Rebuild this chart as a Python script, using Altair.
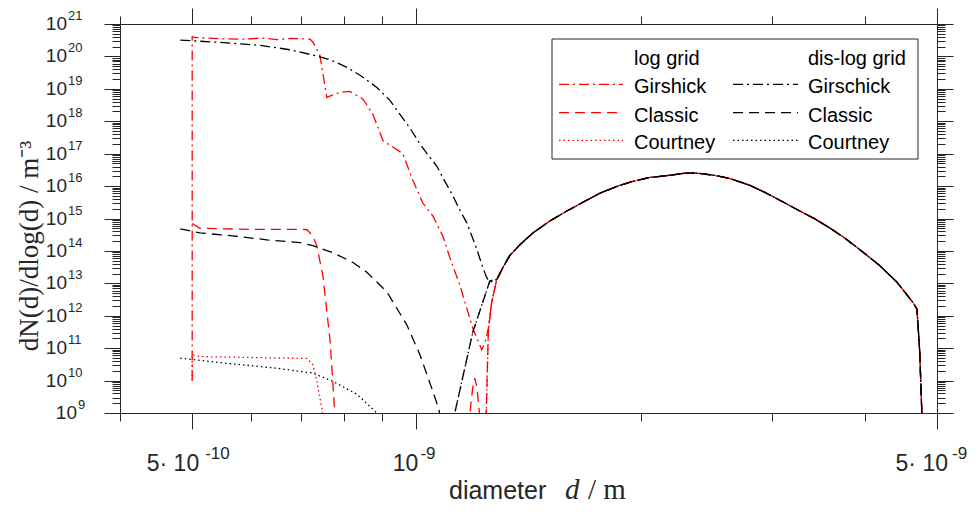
import altair as alt
import pandas as pd

# ---------------- values ----------------
# right-hand branch shared by all six curves
MAIN_D = [1.282e-9, 1.307e-9, 1.334e-9, 1.377e-9, 1.434e-9, 1.511e-9, 1.592e-9, 1.683e-9, 1.763e-9,
          1.859e-9, 1.953e-9, 2.058e-9, 2.17e-9, 2.28e-9, 2.34e-9, 2.40e-9, 2.516e-9, 2.64e-9,
          2.804e-9, 2.937e-9, 3.08e-9, 3.272e-9, 3.428e-9, 3.59e-9, 3.759e-9, 3.94e-9, 4.19e-9,
          4.42e-9, 4.64e-9, 4.70e-9, 4.74e-9, 4.77e-9, 4.79e-9]
MAIN_N = [1.3e13, 3.1e13, 7.1e13, 1.55e14, 3.6e14, 8.4e14, 1.7e15, 3.4e15, 6.0e15,
          9.8e15, 1.4e16, 1.85e16, 2.1e16, 2.45e16, 2.54e16, 2.45e16, 2.13e16, 1.7e16,
          1.05e16, 6.4e15, 3.6e15, 1.7e15, 9.7e14, 5.1e14, 2.5e14, 1.09e14, 3.5e13,
          1.07e13, 2.6e12, 1.6e12, 7.8e10, 1.15e9, 1e8]

# log grid
GIRSHICK_LOG_D = [5.0e-10, 5.0e-10, 5.06e-10, 5.5e-10, 5.9e-10, 6.2e-10, 6.5e-10, 6.8e-10, 7.04e-10,
                  7.2e-10, 7.26e-10, 7.42e-10, 7.58e-10, 7.89e-10, 8.14e-10, 8.48e-10, 8.74e-10,
                  9.02e-10, 9.30e-10, 9.59e-10, 9.89e-10, 1.02e-9, 1.052e-9, 1.085e-9, 1.109e-9,
                  1.144e-9, 1.191e-9, 1.224e-9, 1.236e-9, 1.249e-9, 1.262e-9]
GIRSHICK_LOG_N = [1.0e10, 4.0e20, 3.8e20, 3.5e20, 3.4e20, 3.7e20, 3.3e20, 3.6e20, 3.5e20,
                  3.4e20, 2.8e20, 1.1e20, 5.5e18, 7.8e18, 8.3e18, 4.8e18, 1.65e18,
                  2.5e17, 1.6e17, 1.0e17, 1.5e16, 3.0e15, 1.2e15, 2.9e14, 6.2e13,
                  8.7e12, 4.0e11, 8.9e10, 1.5e11, 4.0e11, 2.6e12]

CLASSIC_LOG_D = [5.0e-10, 5.12e-10, 6.0e-10, 7.04e-10, 7.13e-10, 7.26e-10, 7.35e-10, 7.49e-10,
                 7.66e-10, 7.77e-10, 7.85e-10, 1.17e-9, 1.18e-9, 1.19e-9, 1.198e-9, 1.206e-9,
                 1.215e-9, 1.222e-9, 1.236e-9, 1.241e-9, 1.249e-9, 1.262e-9]
CLASSIC_LOG_N = [7.0e14, 5.0e14, 4.6e14, 4.6e14, 4.5e14, 2.9e14, 1.45e14, 1.7e13,
                 1.6e11, 1.0e9, 2e8, 2e8, 1.0e9, 6e9, 1.2e10, 6e9,
                 1.0e9, 2e8, 2e8, 1.0e9, 3.2e11, 2.6e12]

COURTNEY_LOG_D = [5.0e-10, 5.0e-10, 5.12e-10, 7.13e-10, 7.26e-10, 7.35e-10, 7.47e-10, 7.52e-10,
                  1.236e-9, 1.241e-9, 1.249e-9, 1.262e-9]
COURTNEY_LOG_N = [1.0e10, 6.3e10, 5.5e10, 4.8e10, 3.1e10, 9.5e9, 1.3e9, 2e8,
                  2e8, 1.0e9, 3.2e11, 2.6e12]

# dis-log grid
GIRSCHICK_DIS_D = [4.82e-10, 5.45e-10, 6.17e-10, 6.77e-10, 7.26e-10, 7.66e-10, 8.07e-10, 8.45e-10,
                   8.85e-10, 9.21e-10, 9.50e-10, 9.80e-10, 1.011e-9, 1.036e-9, 1.066e-9, 1.092e-9,
                   1.12e-9, 1.144e-9, 1.169e-9, 1.187e-9, 1.206e-9, 1.224e-9, 1.240e-9, 1.252e-9,
                   1.265e-9]
GIRSCHICK_DIS_N = [3.2e20, 2.7e20, 2.2e20, 1.6e20, 1.1e20, 7.9e19, 4.6e19, 2.4e19,
                   1.1e19, 4.5e18, 1.65e18, 6.2e17, 2.0e17, 9.3e16, 4.0e16, 1.4e16,
                   4.9e15, 1.8e15, 7.2e14, 2.9e14, 1.1e14, 3.8e13, 1.7e13, 1.1e13,
                   1.15e13]

CLASSIC_DIS_D = [4.82e-10, 5.12e-10, 5.67e-10, 6.30e-10, 6.98e-10, 7.26e-10, 7.72e-10, 8.22e-10,
                 8.58e-10, 9.13e-10, 9.71e-10, 1.011e-9, 1.052e-9, 1.072e-9, 1.085e-9, 1.115e-9,
                 1.126e-9, 1.191e-9, 1.255e-9]
CLASSIC_DIS_N = [4.8e14, 3.6e14, 2.9e14, 2.2e14, 1.8e14, 1.45e14, 8.9e13, 4.4e13,
                 2.2e13, 5.4e12, 5.2e11, 6.3e10, 4.7e9, 1.3e9, 3e8, 3e8,
                 1.0e9, 3.2e11, 1.2e13]

COURTNEY_DIS_D = [4.82e-10, 5.50e-10, 6.50e-10, 7.26e-10, 7.72e-10, 8.32e-10, 8.85e-10, 9.0e-10,
                  1.115e-9, 1.126e-9, 1.191e-9, 1.255e-9]
COURTNEY_DIS_N = [4.9e10, 3.5e10, 2.4e10, 1.7e10, 9.5e9, 3.8e9, 1.0e9, 5e8,
                  3e8, 1.0e9, 3.2e11, 1.2e13]

X_DOMAIN = [4e-10, 5e-9]
Y_DOMAIN = [1e9, 1e21]
X_MAJOR = [5e-10, 1e-9, 5e-9]
X_MINOR = [4e-10, 6e-10, 7e-10, 8e-10, 9e-10, 2e-9, 3e-9, 4e-9]
Y_EXPONENTS = list(range(9, 22))
X_TICK_BASE = ["5\u00b7 10", "10", "5\u00b7 10"]
X_TICK_EXP = ["-10", "-9", "-9"]
LEGEND_HEADERS = ["log grid", "dis-log grid"]
LEGEND_LOG = ["Girshick", "Classic", "Courtney"]
LEGEND_DISLOG = ["Girschick", "Classic", "Courtney"]
X_TITLE = ["diameter", "d", "/ m"]
Y_TITLE = "dN(d)/dlog(d) / m\u207b\u00b3"

# ---------------- styling / layout ----------------
W, H = 817, 389
OX, OY = 120, 24          # page position of the plot origin (8px page margin + padding)
AX = "#262626"
SANS = "Liberation Sans"
SERIF = "Liberation Serif"
RED, BLACK = "#ff0000", "#000000"
DASH = {"dashdot": [10, 4, 2, 4], "dashed": [10, 6], "dotted": [1.5, 3]}
LW = 1.3

series = [
    ("Girshick log", "log", "dashdot", GIRSHICK_LOG_D, GIRSHICK_LOG_N),
    ("Classic log", "log", "dashed", CLASSIC_LOG_D, CLASSIC_LOG_N),
    ("Courtney log", "log", "dotted", COURTNEY_LOG_D, COURTNEY_LOG_N),
    ("Girschick dis", "dis", "dashdot", GIRSCHICK_DIS_D, GIRSCHICK_DIS_N),
    ("Classic dis", "dis", "dashed", CLASSIC_DIS_D, CLASSIC_DIS_N),
    ("Courtney dis", "dis", "dotted", COURTNEY_DIS_D, COURTNEY_DIS_N),
]
rows = []
for name, grid, style, ds, ns in series:
    for i, (d, n) in enumerate(zip(ds + MAIN_D, ns + MAIN_N)):
        rows.append({"series": name, "grid": grid, "style": style, "i": i, "d": d, "n": n})
df = pd.DataFrame(rows)

xs = alt.Scale(type="log", domain=X_DOMAIN, nice=False)
ys = alt.Scale(type="log", domain=Y_DOMAIN, nice=False)
dash_scale = alt.Scale(domain=list(DASH.keys()), range=list(DASH.values()))


def axis(orient, values, size, domain=True):
    return alt.Axis(orient=orient, values=values, tickSize=size, labels=False, title=None,
                    grid=False, domain=domain, domainColor=AX, domainWidth=1,
                    tickColor=AX, tickWidth=1)


def lines(grid, color, xaxis, yaxis):
    return alt.Chart(df[df.grid == grid]).mark_line(
        clip=True, strokeWidth=LW, color=color).encode(
        x=alt.X("d:Q", scale=xs, axis=xaxis),
        y=alt.Y("n:Q", scale=ys, axis=yaxis),
        strokeDash=alt.StrokeDash("style:N", scale=dash_scale, legend=None),
        detail="series:N",
        order="i:Q",
    )


Y_MAJOR = [10.0 ** e for e in Y_EXPONENTS]
Y_MINOR = [k * 10.0 ** e for e in Y_EXPONENTS[:-1] for k in range(2, 10)]

layers = []
layers.append(lines("log", RED, axis("bottom", X_MAJOR, 16), axis("left", Y_MAJOR, 16)))
layers.append(lines("dis", BLACK, axis("top", X_MAJOR, 16), axis("right", Y_MAJOR, 16)))

corner = pd.DataFrame({"d": X_DOMAIN, "n": Y_DOMAIN})
for xo, yo in (("bottom", "left"), ("top", "right")):
    layers.append(alt.Chart(corner).mark_point(opacity=0).encode(
        x=alt.X("d:Q", scale=xs, axis=axis(xo, X_MINOR, 8, False)),
        y=alt.Y("n:Q", scale=ys, axis=axis(yo, Y_MINOR, 8, False)),
    ))

# y tick labels: "10" + raised exponent
ylab = pd.DataFrame({"v": Y_MAJOR, "e": [str(e) for e in Y_EXPONENTS]})
for sub, xb in ((ylab[ylab.e.str.len() == 2], 67 - OX), (ylab[ylab.e.str.len() == 1], 77 - OX)):
    layers.append(alt.Chart(sub).mark_text(align="right", baseline="middle", font=SANS,
                                           fontSize=19, color=AX, text="10").encode(
        x=alt.value(xb), y=alt.Y("v:Q", scale=ys, axis=None)))
    layers.append(alt.Chart(sub).mark_text(align="left", baseline="middle", font=SANS,
                                           fontSize=13, color=AX, dy=-8).encode(
        x=alt.value(xb + 1), y=alt.Y("v:Q", scale=ys, axis=None), text="e:N"))

# x tick labels
DXB = [7, 2, 11]
DXE = [13, 4, 15]
for k, v in enumerate(X_MAJOR):
    one = pd.DataFrame({"v": [v], "b": [X_TICK_BASE[k]], "x": [X_TICK_EXP[k]]})
    layers.append(alt.Chart(one).mark_text(align="right", baseline="alphabetic", font=SANS,
                                           fontSize=23, color=AX, dx=DXB[k]).encode(
        x=alt.X("v:Q", scale=xs, axis=None), y=alt.value(471 - OY), text="b:N"))
    layers.append(alt.Chart(one).mark_text(align="left", baseline="alphabetic", font=SANS,
                                           fontSize=17, color=AX, dx=DXE[k]).encode(
        x=alt.X("v:Q", scale=xs, axis=None), y=alt.value(459 - OY), text="x:N"))

dummy = pd.DataFrame({"a": [0]})


def txt(s, px, py, **kw):
    """Annotation text placed at page pixel (px, py)."""
    color = kw.pop("color", "black")
    return alt.Chart(dummy).mark_text(text=s, color=color, **kw).encode(
        x=alt.value(px - OX), y=alt.value(py - OY))


# axis titles
layers.append(txt(X_TITLE[0], 449, 499, align="left", baseline="alphabetic", font=SANS, fontSize=25, color=AX))
layers.append(txt(X_TITLE[1], 565, 499, align="left", baseline="alphabetic", font=SERIF, fontSize=29,
                  fontStyle="italic", color=AX))
layers.append(txt(X_TITLE[2], 588, 499, align="left", baseline="alphabetic", font=SERIF, fontSize=29, color=AX))
layers.append(txt(Y_TITLE, 30, 246, align="center", baseline="middle", font=SERIF, fontSize=27,
                  angle=270, color=AX))

# legend
layers.append(alt.Chart(dummy).mark_rect(fill="white", stroke=AX, strokeWidth=1).encode(
    x=alt.value(552 - OX), x2=alt.value(918 - OX), y=alt.value(39 - OY), y2=alt.value(159 - OY)))
COLX = [634, 808]
LINEX = [(559, 623), (733, 798)]
BASE_Y = [65, 93.3, 121.7, 149.3]
styles = ["dashdot", "dashed", "dotted"]
for c, (hdr, names, color) in enumerate(((LEGEND_HEADERS[0], LEGEND_LOG, RED),
                                         (LEGEND_HEADERS[1], LEGEND_DISLOG, BLACK))):
    layers.append(txt(hdr, COLX[c], BASE_Y[0], align="left", baseline="alphabetic", font=SANS, fontSize=20))
    for r, nm in enumerate(names):
        layers.append(txt(nm, COLX[c], BASE_Y[r + 1], align="left", baseline="alphabetic", font=SANS, fontSize=20))
        layers.append(alt.Chart(dummy).mark_rule(color=color, strokeWidth=LW,
                                                 strokeDash=DASH[styles[r]]).encode(
            x=alt.value(LINEX[c][0] - OX), x2=alt.value(LINEX[c][1] - OX),
            y=alt.value(BASE_Y[r + 1] - 9 - OY)))

chart = alt.layer(*layers).resolve_axis(x="independent", y="independent").properties(
    width=W, height=H,
    autosize=alt.AutoSizeParams(type="none"),
    padding={"left": OX - 8, "top": OY - 8, "right": 31, "bottom": 92},
).configure_view(stroke=None)

chart.save("out.html", embed_options={"renderer": "svg", "actions": False})
